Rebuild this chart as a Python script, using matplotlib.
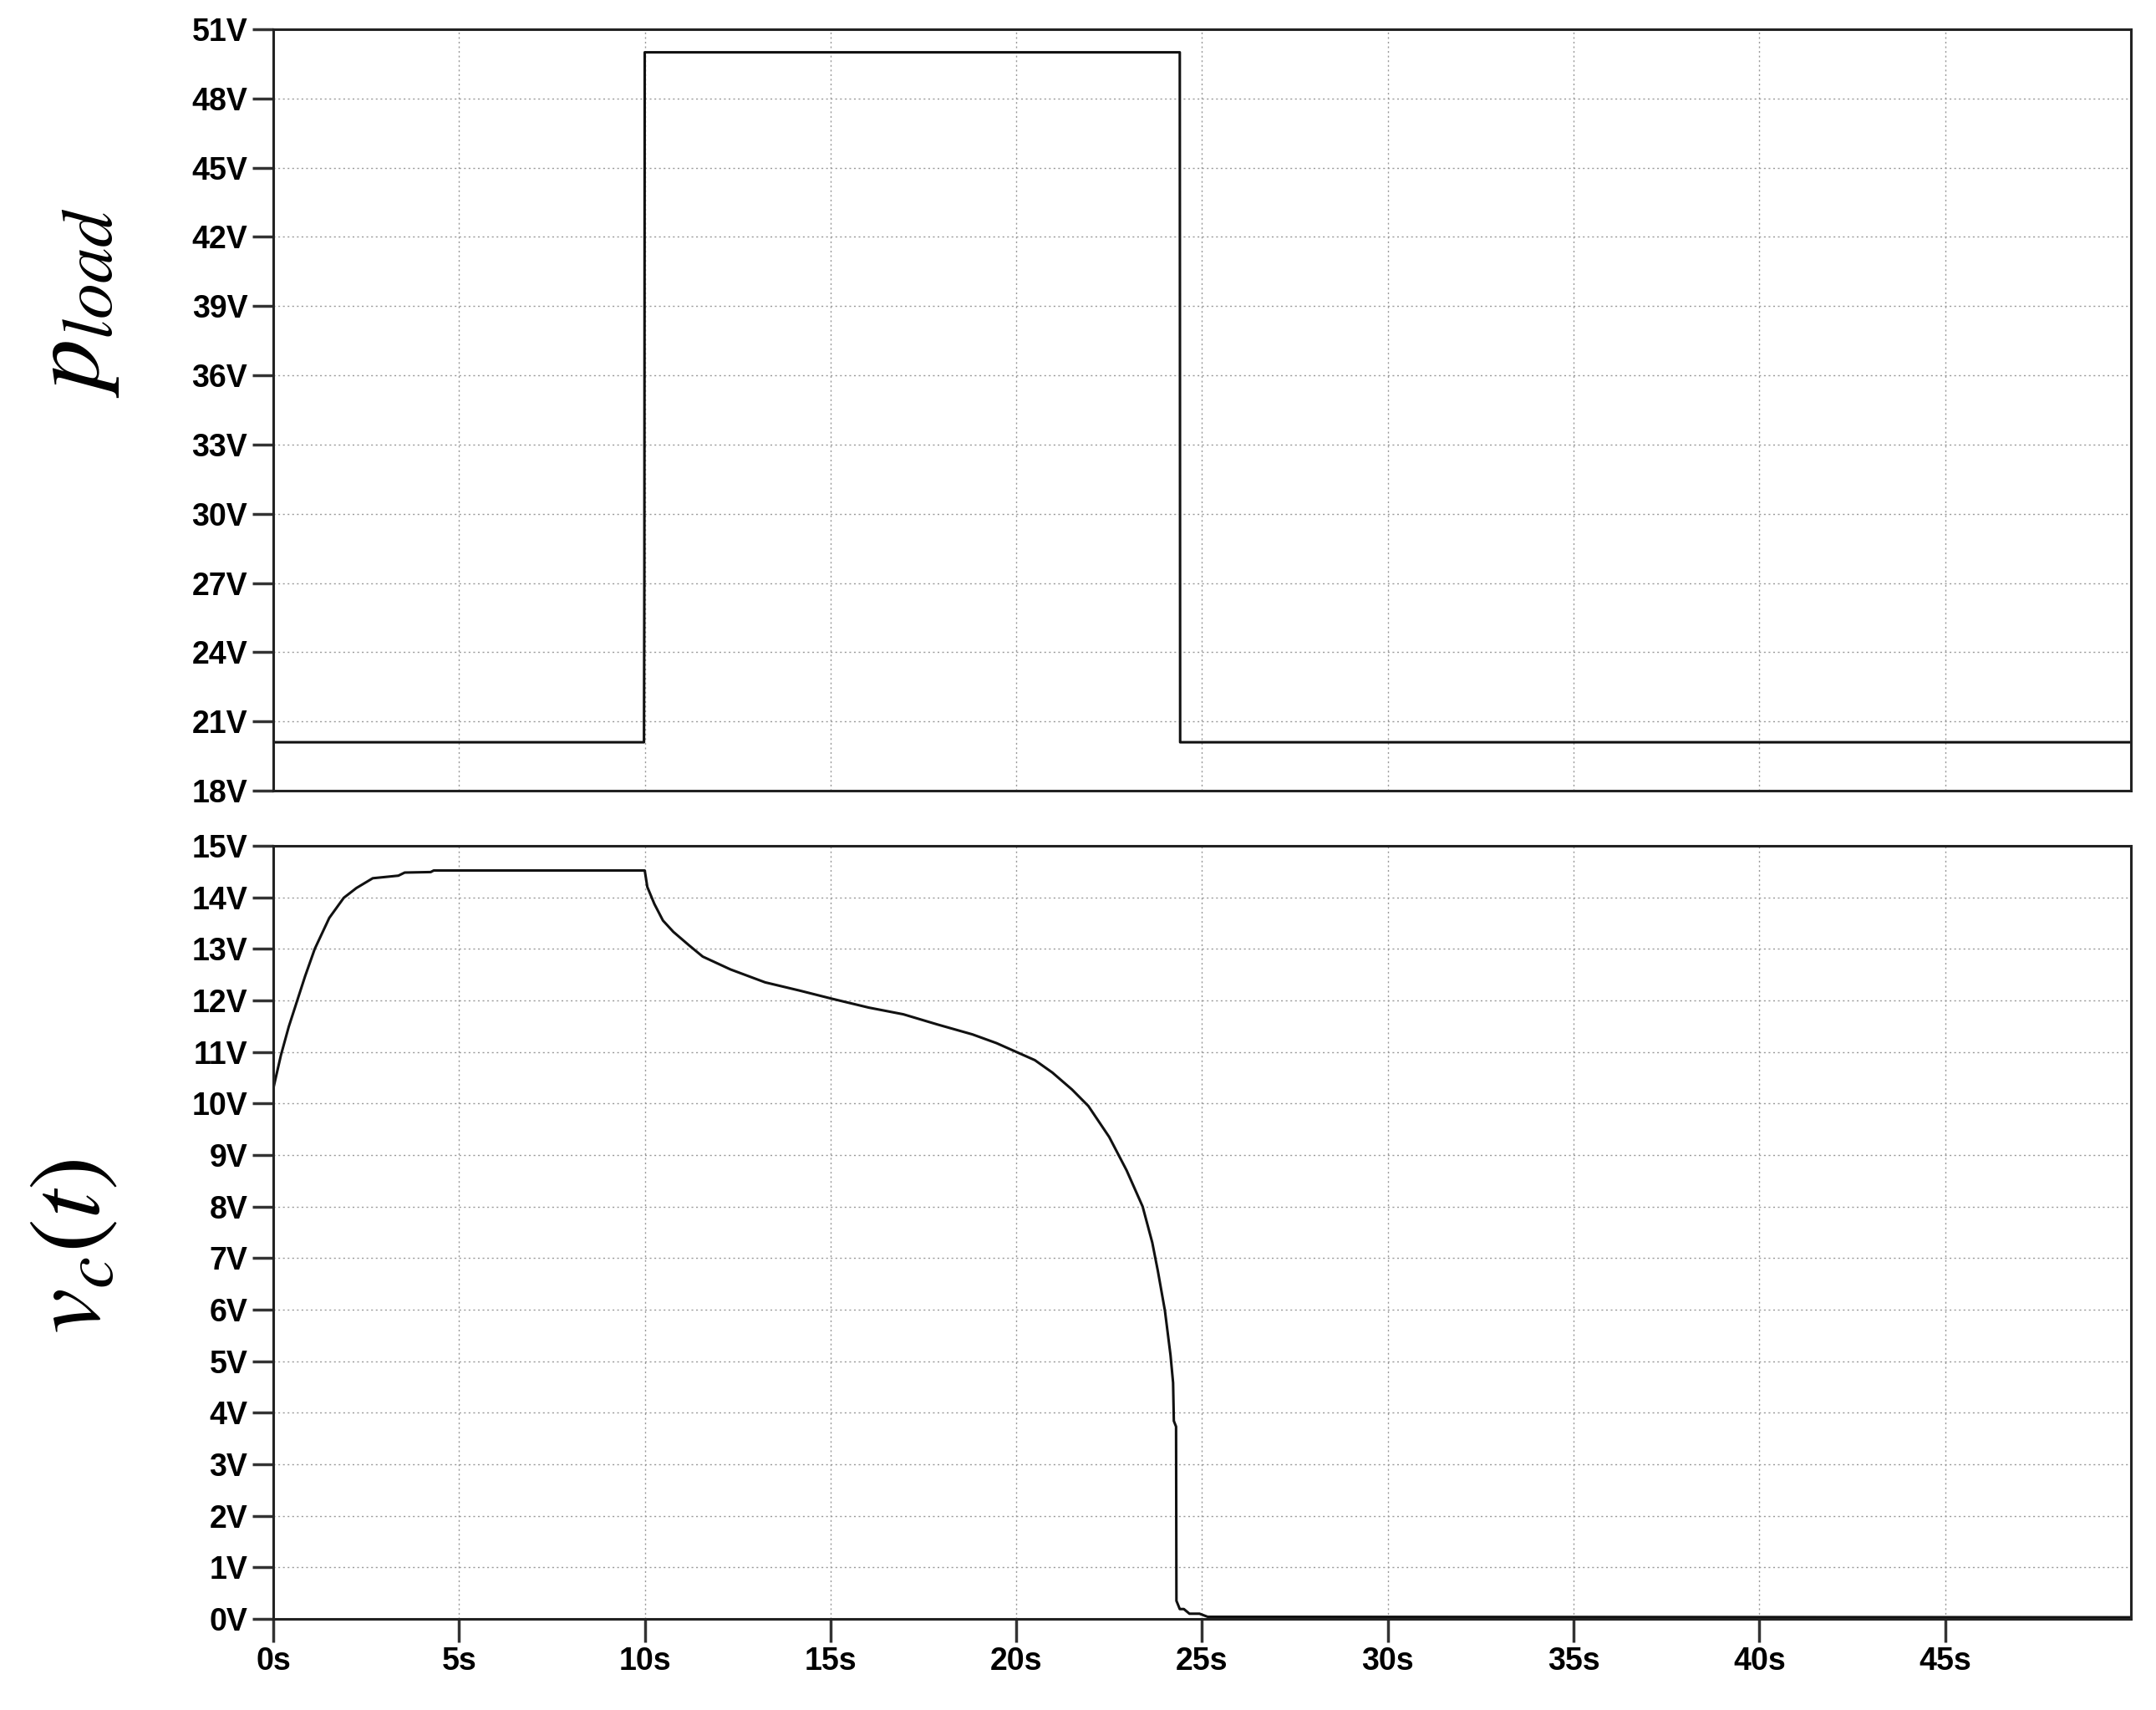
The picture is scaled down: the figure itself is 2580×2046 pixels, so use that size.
import matplotlib.pyplot as plt
from matplotlib.ticker import FixedLocator

plt.rcParams['font.family'] = ['Liberation Sans', 'DejaVu Sans']
plt.rcParams['mathtext.fontset'] = 'stix'

# load power step (top panel)
t_load = [0, 9.98, 9.99, 10.0, 24.4, 24.41, 50]
p_load = [20.1, 20.1, 27.2, 50, 50, 20.1, 20.1]

# capacitor voltage (bottom panel)
t_vc = [0.0, 0.21, 0.42, 0.64, 0.86, 1.12, 1.25, 1.51, 1.9, 2.24, 2.68, 3.37, 3.54,
        4.24, 4.32, 10.0, 10.07, 10.26, 10.49, 10.77, 11.19, 11.56, 12.31, 13.24,
        14.17, 15.05, 16.03, 16.96, 17.89, 18.82, 19.47, 20.0, 20.5, 20.97, 21.5,
        21.94, 22.5, 22.97, 23.4, 23.66, 23.81, 24.0, 24.15, 24.22, 24.24, 24.3,
        24.31, 24.4, 24.51, 24.66, 24.93, 25.15, 50.0]
v_vc = [10.28, 10.94, 11.49, 11.98, 12.47, 13.0, 13.2, 13.6, 13.99, 14.18, 14.37, 14.42, 14.48,
        14.49, 14.52, 14.52, 14.2, 13.87, 13.55, 13.33, 13.07, 12.85, 12.6, 12.35,
        12.19, 12.03, 11.86, 11.73, 11.53, 11.34, 11.17, 11.0, 10.84, 10.6, 10.27,
        9.95, 9.35, 8.7, 8.0, 7.3, 6.75, 5.98, 5.12, 4.58, 3.84, 3.73,
        0.35, 0.19, 0.19, 0.1, 0.1, 0.04, 0.03]

x_ticks = [0, 5, 10, 15, 20, 25, 30, 35, 40, 45]
x_labels = [f"{x}s" for x in x_ticks]
top_ticks = list(range(18, 52, 3))
bot_ticks = list(range(0, 16))

fig = plt.figure(figsize=(25.8, 20.46), dpi=100)
ax1 = fig.add_axes([0.1267, 0.5376, 0.8617, 0.4453])
ax2 = fig.add_axes([0.1267, 0.0533, 0.8617, 0.4521])

ax1.plot(t_load, p_load, color='#111111', linewidth=2.2)
ax2.plot(t_vc, v_vc, color='#111111', linewidth=2.2)

for ax in (ax1, ax2):
    ax.set_xlim(0, 50)
    ax.xaxis.set_major_locator(FixedLocator(x_ticks))
    ax.grid(True, linestyle=(0, (1.5, 2.5)), color='#999999', linewidth=1.0)
    for s in ax.spines.values():
        s.set_linewidth(2.2)
        s.set_color('#222222')
    ax.tick_params(axis='y', direction='out', length=18, width=2.5, pad=4,
                   labelsize=27, color='#333333')

ax1.set_ylim(18, 51)
ax1.set_yticks(top_ticks)
ax1.set_yticklabels([f"{v}V" for v in top_ticks], fontweight='bold')
ax1.tick_params(axis='x', length=0, labelbottom=False)

ax2.set_ylim(0, 15)
ax2.set_yticks(bot_ticks)
ax2.set_yticklabels([f"{v}V" for v in bot_ticks], fontweight='bold')
ax2.set_xticklabels(x_labels, fontweight='bold')
ax2.tick_params(axis='x', direction='out', length=20, width=2.5, pad=4,
                labelsize=27, color='#333333')

fig.text(0.034, 0.823, r'$p_{load}$', fontsize=88,
         rotation=90, ha='center', va='center')
fig.text(0.034, 0.271, r'$v_c(t)$', fontsize=88,
         rotation=90, ha='center', va='center')

plt.savefig('out.png', dpi=100)
